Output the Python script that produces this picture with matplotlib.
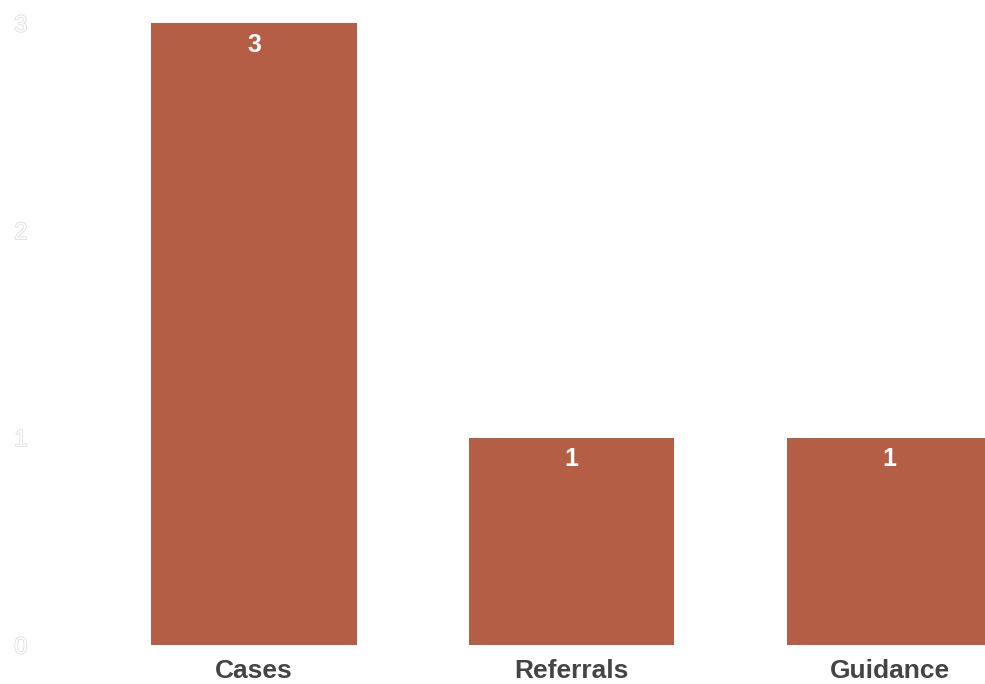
import matplotlib.pyplot as plt
import matplotlib.patheffects as pe

categories = ["Cases", "Referrals", "Guidance"]
counts = [3, 1, 1]
y_ticks = [0, 1, 2, 3]

bar_color = "#B45F45"

plt.rcParams['font.family'] = ['Liberation Sans', 'DejaVu Sans']

fig = plt.figure(figsize=(9.85, 6.84), dpi=100)
ax = fig.add_axes([0.032, 0.057, 0.968, 0.909])

x = list(range(len(categories)))
bars = ax.bar(x, counts, width=0.646, color=bar_color)

for b, v in zip(bars, counts):
    ax.text(b.get_x() + b.get_width() / 2, v - 0.045, str(v), ha='center', va='top',
            color='white', fontsize=18, fontweight='bold')

ax.set_xlim(-0.70, 2.30)
ax.set_ylim(0, 3)
ax.set_xticks(x)
ax.set_xticklabels(categories, fontsize=19, fontweight='bold', color='#444444')
ax.set_yticks(y_ticks)
ax.set_yticklabels([str(t) for t in y_ticks], fontsize=17, color='white')
for lbl in ax.get_yticklabels():
    lbl.set_path_effects([pe.withStroke(linewidth=1.0, foreground='#d8d8d8')])
ax.tick_params(axis='both', length=0)
ax.tick_params(axis='x', pad=10)
ax.tick_params(axis='y', pad=3)
for s in ax.spines.values():
    s.set_visible(False)

fig.savefig("out.png", dpi=100)
